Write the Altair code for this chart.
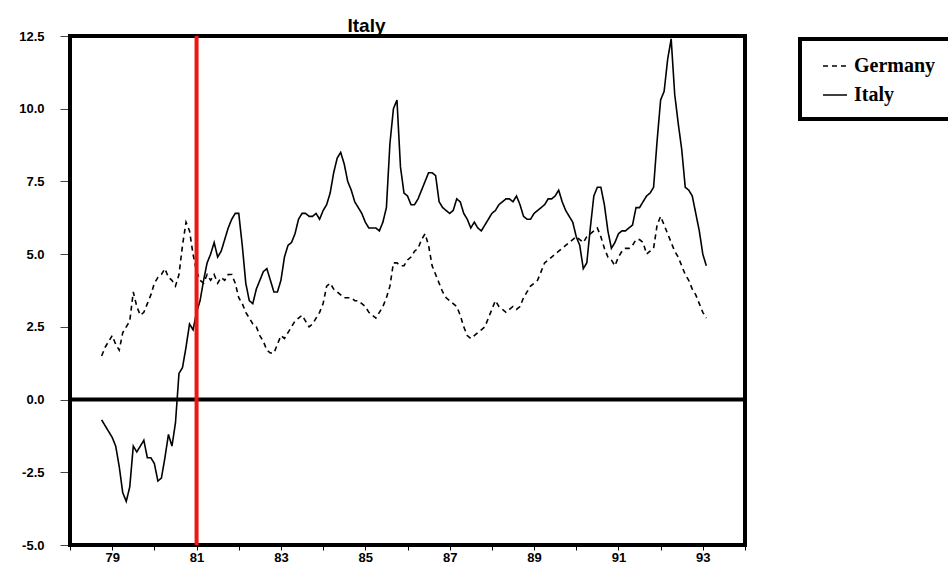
import altair as alt
import pandas as pd

# Monthly observations, October 1978 to February 1993
START_YEAR = 1978
START_MONTH = 10

germany = [
    1.5, 1.8, 2.0,                                                  # 1978 Q4
    2.2, 1.9, 1.7, 2.3, 2.5, 2.7, 3.7, 3.2, 2.9, 3.0, 3.3, 3.6,     # 1979
    4.0, 4.2, 4.3, 4.5, 4.2, 4.1, 3.9, 4.3, 5.3, 6.1, 5.8, 5.0,     # 1980
    4.4, 4.1, 4.0, 4.3, 4.1, 4.3, 4.0, 4.2, 4.1, 4.3, 4.3, 4.0,     # 1981
    3.5, 3.3, 3.0, 2.8, 2.6, 2.5, 2.2, 2.0, 1.7, 1.6, 1.6, 1.9,     # 1982
    2.2, 2.1, 2.3, 2.5, 2.7, 2.8, 2.9, 2.7, 2.5, 2.6, 2.8, 3.0,     # 1983
    3.3, 3.9, 4.0, 3.8, 3.7, 3.6, 3.5, 3.5, 3.5, 3.4, 3.4, 3.3,     # 1984
    3.2, 3.0, 2.9, 2.8, 3.0, 3.2, 3.5, 3.9, 4.7, 4.7, 4.6, 4.6,     # 1985
    4.8, 4.9, 5.1, 5.2, 5.5, 5.7, 5.3, 4.6, 4.3, 4.0, 3.7, 3.5,     # 1986
    3.4, 3.3, 3.2, 2.9, 2.5, 2.2, 2.1, 2.2, 2.3, 2.4, 2.5, 2.8,     # 1987
    3.1, 3.4, 3.2, 3.1, 3.0, 3.1, 3.2, 3.1, 3.2, 3.5, 3.7, 3.9,     # 1988
    4.0, 4.1, 4.4, 4.7, 4.8, 4.9, 5.0, 5.1, 5.2, 5.3, 5.4, 5.5,     # 1989
    5.6, 5.5, 5.4, 5.6, 5.7, 5.8, 5.9, 5.6, 5.2, 4.9, 4.8, 4.6,     # 1990
    4.9, 5.1, 5.2, 5.2, 5.3, 5.5, 5.5, 5.4, 5.0, 5.1, 5.2, 6.0,     # 1991
    6.3, 6.0, 5.7, 5.4, 5.1, 4.9, 4.6, 4.3, 4.1, 3.8, 3.6, 3.3,     # 1992
    3.0, 2.8,                                                       # 1993
]

italy = [
    -0.7, -0.9, -1.1,                                                      # 1978 Q4
    -1.3, -1.6, -2.3, -3.2, -3.5, -3.0, -1.6, -1.8, -1.6, -1.4, -2.0, -2.0,  # 1979
    -2.2, -2.8, -2.7, -2.0, -1.2, -1.6, -0.8, 0.9, 1.1, 1.8, 2.6, 2.4,       # 1980
    3.0, 3.4, 4.1, 4.7, 5.0, 5.4, 4.9, 5.1, 5.5, 5.9, 6.2, 6.4,              # 1981
    6.4, 5.3, 4.0, 3.4, 3.3, 3.8, 4.1, 4.4, 4.5, 4.1, 3.7, 3.7,              # 1982
    4.1, 4.9, 5.3, 5.4, 5.7, 6.2, 6.4, 6.4, 6.3, 6.3, 6.4, 6.2,              # 1983
    6.5, 6.7, 7.1, 7.8, 8.3, 8.5, 8.1, 7.5, 7.2, 6.8, 6.6, 6.4,              # 1984
    6.1, 5.9, 5.9, 5.9, 5.8, 6.1, 6.6, 8.8, 10.0, 10.3, 8.0, 7.1,            # 1985
    7.0, 6.7, 6.7, 6.9, 7.2, 7.5, 7.8, 7.8, 7.7, 6.8, 6.6, 6.5,              # 1986
    6.4, 6.5, 6.9, 6.8, 6.4, 6.2, 5.9, 6.1, 5.9, 5.8, 6.0, 6.2,              # 1987
    6.4, 6.5, 6.7, 6.8, 6.9, 6.9, 6.8, 7.0, 6.7, 6.3, 6.2, 6.2,              # 1988
    6.4, 6.5, 6.6, 6.7, 6.9, 6.9, 7.0, 7.2, 6.8, 6.5, 6.3, 6.1,              # 1989
    5.6, 5.3, 4.5, 4.7, 5.9, 7.0, 7.3, 7.3, 6.7, 5.8, 5.2, 5.4,              # 1990
    5.7, 5.8, 5.8, 5.9, 6.0, 6.6, 6.6, 6.8, 7.0, 7.1, 7.3, 8.9,              # 1991
    10.3, 10.6, 11.7, 12.4, 10.5, 9.5, 8.6, 7.3, 7.2, 7.0, 6.4, 5.8,         # 1992
    5.0, 4.6,                                                              # 1993
]

series_names = ["Germany", "Italy"]
y_ticks = [-5.0, -2.5, 0.0, 2.5, 5.0, 7.5, 10.0, 12.5]
x_ticks = [1978 + 0.5 * i for i in range(33)]   # half-year ticks, labels on odd years
x_domain = [1978, 1994]
y_domain = [-5.0, 12.5]
vertical_marker = [1981]
zero_level = [0.0]

start = START_YEAR + (START_MONTH - 1) / 12.0
rows = []
for name, values in zip(series_names, [germany, italy]):
    for i, v in enumerate(values):
        rows.append({"series": name, "t": start + i / 12.0, "value": v})
df = pd.DataFrame(rows)

x_scale = alt.Scale(domain=x_domain, nice=False, zero=False)
y_scale = alt.Scale(domain=y_domain, nice=False, zero=False)

x_axis = alt.Axis(
    title=None, values=x_ticks, grid=False, domain=False,
    labelExpr="(datum.value % 2 == 1) ? substring(toString(datum.value), 2, 4) : ''",
    tickSize=5, tickColor="black", tickWidth=1,
    labelPadding=1, labelFont="Liberation Sans", labelFontSize=13,
    labelFontWeight="bold", labelColor="black",
)
y_axis = alt.Axis(
    title=None, values=y_ticks, grid=False, domain=False,
    labelExpr="replace(format(datum.value, '.1f'), '\u2212', '-')",
    tickSize=10, tickColor="#444444", tickWidth=1,
    labelPadding=16, labelFont="Liberation Sans", labelFontSize=13,
    labelFontWeight="bold", labelColor="black",
)

lines = alt.Chart(df).mark_line(color="black", strokeWidth=1.6).encode(
    x=alt.X("t:Q", scale=x_scale, axis=x_axis),
    y=alt.Y("value:Q", scale=y_scale, axis=y_axis),
    strokeDash=alt.StrokeDash(
        "series:N",
        scale=alt.Scale(domain=series_names, range=[[5, 4], [1, 0]]),
        legend=alt.Legend(
            title=None, orient="none", legendX=730, legendY=3,
            symbolType="stroke", symbolSize=576, symbolStrokeWidth=1.5,
            symbolStrokeColor="black", symbolOffset=8,
            labelFont="Liberation Serif", labelFontSize=20,
            labelFontWeight="bold", labelColor="black", labelOffset=6,
            rowPadding=6, padding=14, strokeColor="black", fillColor="white",
        ),
    ),
)

# plot frame drawn along the scale domain
frame = alt.Chart(
    pd.DataFrame({"t": [x_domain[0]], "t2": [x_domain[1]],
                  "value": [y_domain[0]], "value2": [y_domain[1]]})
).mark_rect(filled=False, stroke="black", strokeWidth=4).encode(
    x=alt.X("t:Q", scale=x_scale), x2="t2:Q",
    y=alt.Y("value:Q", scale=y_scale), y2="value2:Q",
)

zero_line = alt.Chart(pd.DataFrame({"value": zero_level})).mark_rule(
    color="black", strokeWidth=4
).encode(y=alt.Y("value:Q", scale=y_scale))

marker = alt.Chart(pd.DataFrame({"t": vertical_marker})).mark_rule(
    color="#f01414", strokeWidth=4
).encode(x=alt.X("t:Q", scale=x_scale))

chart = (
    alt.layer(lines, zero_line, frame, marker)
    .properties(
        width=675, height=509,
        title=alt.TitleParams(
            "Italy", font="Liberation Sans", fontSize=19, fontWeight="bold",
            color="black", anchor="middle", dx=-41, offset=-6,
        ),
        autosize=alt.AutoSizeParams(type="none"),
        padding={"left": 70, "top": 36, "right": 203, "bottom": 18},
    )
    .configure(background="white")
    .configure_view(stroke="black", strokeWidth=4)
    .configure_legend(strokeWidth=4)
)

chart.save("out.html", embed_options={"renderer": "svg", "actions": False})
